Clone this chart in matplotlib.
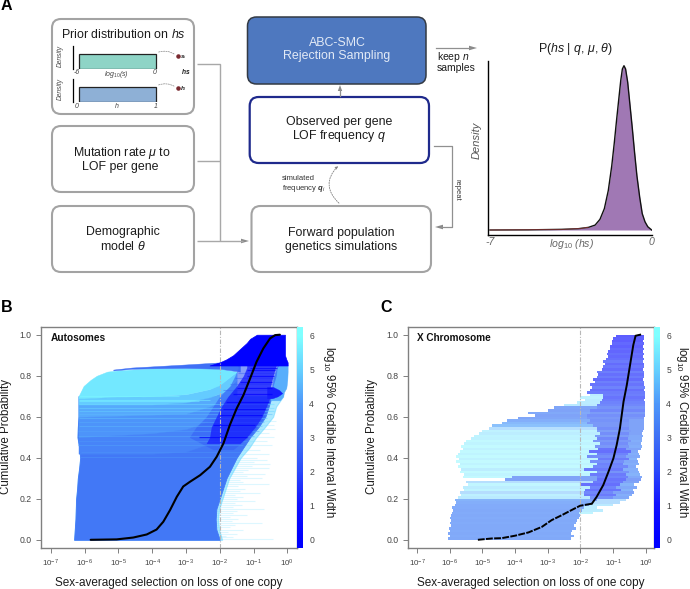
import matplotlib
matplotlib.use('Agg')
import numpy as np
import matplotlib.pyplot as plt
from matplotlib.colors import LinearSegmentedColormap, Normalize
from matplotlib.patches import FancyBboxPatch, FancyArrowPatch

plt.rcParams['font.family'] = ['Liberation Sans', 'DejaVu Sans']
plt.rcParams['mathtext.fontset'] = 'custom'
plt.rcParams['mathtext.rm'] = 'Liberation Sans'
plt.rcParams['mathtext.it'] = 'Liberation Sans:italic'
plt.rcParams['mathtext.bf'] = 'Liberation Sans:bold'
plt.rcParams['mathtext.bfit'] = 'Liberation Sans:italic:bold'

W, H = 690, 589

# ---------- panel A density ----------
post_log_hs = [-7, -5.34, -3.9, -3.18, -2.74, -2.45, -2.24, -2.05, -1.88, -1.73, -1.62, -1.52, -1.43, -1.34,
               -1.27, -1.2, -1.13, -1.04, -.94, -.84, -.74, -.64, -.52, -.41, -.29, -.17, 0]
post_density = [0, .001, .004, .008, .016, .03, .065, .13, .24, .39, .53, .67, .79, .91,
                .98, 1.0, .98, .9, .76, .62, .47, .33, .2, .1, .05, .02, 0]

# ---------- panel B (autosomes): medians ----------
b_med_x = [-5.82, -5.05, -4.56, -4.16, -3.87, -3.67, -3.47, -3.27, -3.08, -2.88, -2.58, -2.29, -2.09, -1.89,
           -1.70, -1.5, -1.3, -1.1, -.91, -.71, -.51, -.36, -.22]
b_med_p = [0, .002, .011, .026, .05, .088, .145, .21, .26, .283, .315, .356, .405, .47,
           .56, .64, .705, .787, .868, .933, .982, .998, 1]

# panel B: outer reach of the credible intervals
b_main_p = [0, .05, .1, .15, .2, .25, .3, .35, .4, .45, .5, .55, .6, .65, .7]
b_main_lo = [-6.31, -6.29, -6.27, -6.26, -6.25, -6.22, -6.2, -6.16, -6.13, -6.16, -6.21, -6.2, -6.18, -6.18, -6.18]
b_main_hi = [-2.0, -2.1, -2.12, -2.1, -2.0, -1.9, -1.8, -1.65, -1.5, -1.3, -1.1, -.85, -.65, -.55, -.46]
b_soft_hi = [-1.93, -2.02, -2.05, -2.02, -1.92, -1.82, -1.72, -1.55, -1.38, -1.12, -.92, -.66, -.42, -.33, -.12]

# panel B: bands of the same interval width, lower and upper bound across x
b_band_x = [-6.18, -4.0, -3.0, -2.3, -1.9, -1.5]
b_band_p = [[.42, .42, .43, .47, .52, .56], [.50, .52, .54, .58, .62, .66], [.60, .61, .615, .65, .68, .74],
            [.66, .66, .67, .695, .72, .78], [.69, .70, .71, .735, .77, .82]]
b_band_w = [3.5, 3.9, 4.3, 4.9]
b_cyan_x = [-6.18, -6.12, -6.03, -5.82, -5.64, -5.33, -5.0, -4.0, -3.0, -2.3, -2.0, -1.5]
b_cyan_top = [.70, .72, .75, .78, .80, .82, .826, .836, .838, .836, .834, .82]
b_cyan_low = [.69, .69, .69, .692, .693, .695, .697, .70, .71, .735, .755, .82]
b_cyan_w = 5.5
b_rim_x = [-5.15, -4.6, -4.06, -3.0, -2.0, -1.4]
b_rim_lo = [.826, .834, .836, .838, .834, .82]
b_rim_hi = [.83, .84, .845, .855, .865, .88]
b_rim_w = 3.0

# panel B: dark core of narrow intervals
b_core_p = [.44, .5, .55, .6, .65, .7, .75, .8, .84, .86]
b_core_lo = [-2.2, -2.9, -2.7, -2.4, -2.2, -2.0, -1.7, -1.55, -1.45, -1.5]
b_core_hi = [-1.6, -1.15, -.9, -.68, -.58, -.46, -.42, -.33, -.3, -.2]
b_core_w = 2.6
b_inner_p = [.47, .5, .55, .6, .65, .7, .75, .8, .84, .86]
b_inner_lo = [-2.4, -2.3, -2.25, -2.1, -1.95, -1.75, -1.5, -1.3, -1.2, -1.2]
b_inner_hi = [-1.4, -1.2, -.95, -.75, -.62, -.5, -.5, -.42, -.35, -.3]
b_inner_w = 1.2
b_lobe_p = [.69, .70, .715, .73, .745]
b_lobe_hi = [-.45, -.28, -.15, -.24, -.42]
b_lobe_w = 1.2
b_right_p = [.68, .70, .72, .74, .78, .82, .85, .87]
b_right_lo = [-.5, -.5, -.5, -.45, -.42, -.35, -.3, -.2]
b_right_hi = [-.22, -.12, -.1, -.03, 0, .01, .01, -.03]
b_right_w = 4.4
b_top_p = [.85, .855, .865, .88, .9, .93, .96, .98, 1]
b_top_lo = [-2.3, -2.2, -2.0, -1.8, -1.6, -1.4, -1.2, -1.1, -.9]
b_top_hi = [.01, .01, .01, -.03, -.07, -.07, -.07, -.07, -.07]
b_top_w = 0.05

# panel B: single genes that stand out
b_streak_p = [.405, .43, .46, .48, .505, .53, .555, .575, .595, .615, .63, .645, .66, .675, .682, .70, .73, .76,
              .79, .815, .50, .56, .61, .64, .67, .71, .74, .77, .80, .83, .84]
b_streak_lo = [-6.13, -6.1, -6.2, -6.2, -6.2, -6.2, -6.18, -6.18, -6.18, -6.18, -6.18, -6.18, -6.18, -6.18, -6.18,
               -6.18, -1.9, -1.7, -1.55, -1.45, -2.6, -2.2, -2.0, -1.9, -1.8, -1.6, -1.5, -1.4, -1.2, -1.2, -1.1]
b_streak_hi = [-1.5, -1.4, -1.3, -1.2, -1.0, -.85, -.75, -.7, -.6, -.45, -.4, -.4, -.4, -2.6, -2.3, -3.2, -.5,
               -.45, -.4, -.35, -1.2, -.95, -.75, -.65, -.55, -.45, -.45, -.45, -.4, -.35, -.3]
b_streak_w = [4, 3.9, 4.2, 4, 4.4, 4.2, 4.6, 4.4, 4.8, 4.6, 5, 5.2, 5.3, 5.9, 6, 5.9, 2.6, 2.8, 2.4, 2.6,
              0, 0, 0, 0, 0, 0, 0, 0, 0, 0, 0]

b_fringe_p = [.005, .012, .02, .03, .04, .05, .06, .07, .08, .09, .10, .11, .12, .13, .14, .15, .16, .17, .18,
              .19, .20, .21, .22, .23, .24, .25, .26, .27, .28, .29, .30, .31, .32, .33, .34, .35, .36, .37,
              .38, .39, .40, .42, .44, .46, .48, .50, .52, .54, .56, .58]
b_fringe_hi = [-.42, -1.6, -1.8, -1.5, -1.75, -1.3, -1.7, -1.55, -.75, -1.65, -1.45, -1.7, -1.2, -1.6, -1.5,
               -.7, -1.6, -1.35, -1.55, -.95, -1.5, -1.3, -1.55, -.8, -1.4, -1.25, -1.45, -.55, -1.3, -1.4,
               -.75, -1.2, -.65, -1.3, -1.15, -.55, -1.05, -.5, -1.0, -.6, -.9, -.55, -.8, -.45, -.6, -.4,
               -.55, -.35, -.4, -.32]

# ---------- panel C (X chromosome) ----------
c_med_x_low = [-5.14, -4.71, -4.41, -4.0, -3.59, -3.18, -2.88, -2.57, -2.27, -2.01, -1.65]
c_med_p_low = [0, .0065, .008, .02, .036, .063, .096, .12, .145, .166, .176]
c_med_x_high = [-1.65, -1.5, -1.3, -1.14, -.99, -.89, -.79, -.68, -.58, -.48, -.38, -.31, -.17]
c_med_p_high = [.176, .21, .267, .332, .397, .462, .543, .673, .754, .852, .95, .995, 1]

c_p = [.0000, .0125, .025, .0375, .05, .0625, .075, .0875, .1, .1125, .125, .1375, .15, .1625, .175, .1875,
       .2, .2125, .225, .2375, .25, .2625, .275, .2875, .3, .3125, .325, .3375, .35, .3625, .375, .3875,
       .4, .4125, .425, .4375, .45, .4625, .475, .4875, .5, .5125, .525, .5375, .55, .5625, .575, .5875,
       .6, .6125, .625, .6375, .65, .6625, .675, .6875, .7, .7125, .725, .7375, .75, .7625, .775, .7875,
       .8, .8125, .825, .8375, .85, .8625, .875, .8875, .9, .9125, .925, .9375, .95, .9625, .975, .9875]
c_edges = [[-6.05, -2.28], [-6.0, -2.2], [-6.05, -2.3], [-5.98, -2.25], [-6.02, -2.15], [-5.97, -2.2],
           [-6.0, -2.12], [-5.95, -2.1], [-6.0, -2.05], [-5.96, -2.0], [-5.93, -2.05, -1.6], [-5.9, -1.95, -1.3],
           [-5.92, -1.9, -1.5], [-5.85, -1.75, -1.0], [-5.8, -1.6, -.8], [-5.83, -1.7, -1.5, -.6],
           [-5.75, -1.7, -1.0, -.5], [-5.65, -1.9, -.9, -.42], [-5.7, -1.9, -1.0, -.35],
           [-5.55, -1.85, -.75, -.4], [-5.6, -1.7, -.9, -.28], [-5.45, -2.0, -.8, -.35], [-5.5, -1.6, -.7, -.2],
           [-4.3, -1.5, -.6, -.15], [-5.6, -4.1, -1.5, -.55, -.12], [-5.55, -1.7, -.6, -.17], [-5.7, -1.5, -.5, -.2],
           [-5.65, -1.9, -.7, -.25], [-5.75, -1.6, -.55, -.3], [-5.7, -1.5, -.7, -.22], [-5.8, -1.7, -.65, -.25],
           [-5.72, -1.45, -.5, -.28], [-5.8, -1.8, -.6, -.18], [-5.75, -1.5, -.55, -.2], [-5.7, -1.75, -.45, -.25],
           [-5.6, -1.45, -.6, -.15], [-5.65, -1.55, -.5, -.12], [-5.55, -1.4, -.55, -.13], [-5.5, -1.6, -.45, -.1],
           [-5.35, -1.5, -.55, -.12], [-5.25, -1.55, -.5, -.08], [-5.1, -1.4, -.5, -.1], [-5.0, -1.5, -.45, -.08],
           [-4.8, -1.5, -.5, -.06], [-4.7, -1.6, -.5, -.06], [-4.4, -1.8, -.5, -.04], [-4.25, -1.7, -.5, -.04],
           [-3.9, -1.8, -.05], [-3.4, -1.8, -.03], [-3.6, -1.7, -.03], [-3.0, -1.7, -.02], [-2.8, -1.5, -.03],
           [-2.5, -1.5, -.02], [-2.1, -1.4, -.03], [-1.85, -1.35, -.05], [-2.0, -1.3, -.02], [-1.7, -1.3, -.03],
           [-1.8, -.02], [-1.72, -.05], [-1.65, -.03], [-1.7, -.04], [-1.55, -.05], [-1.6, -.07], [-1.5, -.05],
           [-1.45, -.06], [-1.5, -.05], [-1.35, -.07], [-1.3, -.06], [-1.25, -.06], [-1.3, -.08], [-1.22, -.06],
           [-1.15, -.07], [-1.18, -.06], [-1.14, -.07], [-1.1, -.06], [-1.08, -.07], [-1.04, -.06], [-1.02, -.07],
           [-1.0, -.05], [-.9, -.04]]
c_width = [[3.4], [3.5], [3.4], [3.5], [3.4], [3.4], [3.5], [3.4], [3.5], [3.4], [3.5, 5.5], [3.4, 5.2],
           [3.5, 5.2], [3.5, 5], [3.6, 4.5], [3.8, 3, 4.5],
           [5, 2.5, 3.4], [5.3, 1.8, 3.6], [4.5, 2.2, 3.2], [5.5, 1.6, 3.8], [5.2, 2, 3.4], [5.6, 1.5, 3.8], [4.6, 1.8, 3.2],
           [3.2, 1.6, 3.0], [5.7, 3.2, 2, 3.4], [5.5, 1.8, 3.8], [5.8, 2.6, 3.6], [5.2, 1.8, 3.6], [5.8, 2.2, 3.4],
           [5.5, 2, 3.6], [5.8, 2.5, 3.4], [5.4, 1.8, 3.8], [5.8, 2.4, 3.4], [5.5, 2, 3.6], [5.7, 1.5, 3.4], [5.4, 1.6, 3.2],
           [5.8, 2.8, 3.6], [5.5, 2.4, 3.4], [5.7, 2.8, 3.6], [5.4, 2.2, 3.4], [5.5, 3, 3.4], [5.2, 2.4, 3.2], [5.4, 3, 3.2],
           [4.6, 2.4, 3.2], [4.2, 2.8, 3.2], [4, 2.8, 3.2], [3.6, 2.6, 3.2],
           [3.3, 2.8], [3.2, 2.5], [3.4, 2.9], [3.2, 2.2], [3.3, 2.6], [5, 2.2], [5.2, 2], [5.2, 1.8], [5.4, 1.6],
           [5.2, 1.9], [1.8], [1.5], [2], [1.6], [1.9], [1.4], [1.8], [1.5], [1.9], [1.4], [1.7], [1.4], [1.8], [1.5],
           [1.3], [1.5], [1.2], [1.4], [1.1], [1.3], [1.0], [1.1], [.9]]
c_row_height = .0125

# ---------- shared labels ----------
x_exponents = [-7, -6, -5, -4, -3, -2, -1, 0]
y_ticks = [0, .2, .4, .6, .8, 1.0]
cbar_ticks = [0, 1, 2, 3, 4, 5, 6]
x_label = 'Sex-averaged selection on loss of one copy'
y_label = 'Cumulative Probability'
cbar_label = 'log$_{10}$ 95% Credible Interval Width'

cmap = LinearSegmentedColormap.from_list('ci', [(0, '#0000ff'), (1 / 6, '#1212ff'), (2 / 6, '#2a48fb'),
                                                (3 / 6, '#3f70f5'), (4 / 6, '#4f98fa'), (5 / 6, '#66d0ff'),
                                                (1, '#80ffff')])
norm = Normalize(0, 6)


def tenx(values):
    return [10.0 ** v for v in values]


def px_axes(fig, l, t, r, b):
    return fig.add_axes([l / W, 1 - b / H, (r - l) / W, (b - t) / H])


fig = plt.figure(figsize=(W / 100, H / 100), dpi=100)

bg = fig.add_axes([0, 0, 1, 1], zorder=-5)
bg.set_xlim(0, W)
bg.set_ylim(H, 0)
bg.axis('off')


def draw_panel(box_px, cbox, xlim, draw_rows, med):
    ax = px_axes(fig, *box_px)
    ax.set_xscale('log')
    ax.set_xlim(10 ** xlim[0], 10 ** xlim[1])
    ax.set_ylim(-.04, 1.0376)
    draw_rows(ax)
    ax.axvline(1e-2, color='#b8b8b8', lw=.8, ls=(0, (4, 1.5, 1, 1.5)), zorder=9)
    med(ax)
    ax.set_xticks(tenx(x_exponents))
    ax.set_xticklabels(['$10^{%d}$' % e for e in x_exponents], fontsize=5.8, color='#444444')
    ax.xaxis.set_minor_locator(plt.NullLocator())
    ax.set_yticks(y_ticks)
    ax.set_yticklabels(['%.1f' % v for v in y_ticks], fontsize=6.2, color='#444444')
    ax.tick_params(length=3.5, width=.7, color='#808080', pad=3.5)
    for s in ax.spines.values():
        s.set_color('#808080')
        s.set_linewidth(1.0)
    cax = px_axes(fig, *cbox)
    cax.imshow(np.linspace(6.25, -.25, 256)[:, None], aspect='auto', cmap=cmap, norm=norm,
               extent=[0, 1, -.25, 6.25])
    cax.set_xticks([])
    cax.yaxis.tick_right()
    cax.set_yticks(cbar_ticks)
    cax.tick_params(axis='y', length=0, labelsize=6.2, labelcolor='#444444', pad=4.5)
    for s in cax.spines.values():
        s.set_visible(False)
    return ax


def rows_b(ax):
    ax.hlines(b_fringe_p, 10.0 ** -3, tenx(b_fringe_hi), color='#9fe9ff', lw=.8, alpha=.35, zorder=1)
    ax.fill_betweenx(b_main_p, tenx(b_main_lo), tenx(b_soft_hi), color=cmap(norm(5.2)), alpha=.55, lw=.8, zorder=2)
    ax.fill_betweenx(b_main_p, tenx(b_main_lo), tenx(b_main_hi), color=cmap(norm(3.2)), lw=.6, zorder=3)
    for k, w in enumerate(b_band_w):
        ax.fill_between(tenx(b_band_x), b_band_p[k], b_band_p[k + 1], color=cmap(norm(w)), lw=.3, zorder=4)
    ax.fill_between(tenx(b_cyan_x), b_cyan_low, b_cyan_top, color=cmap(norm(b_cyan_w)), lw=.3, zorder=4)
    ax.fill_between(tenx(b_rim_x), b_rim_lo, b_rim_hi, color=cmap(norm(b_rim_w)), lw=.3, zorder=4)
    ax.fill_betweenx(b_right_p, tenx(b_right_lo), tenx(b_right_hi), color=cmap(norm(b_right_w)), lw=.3, zorder=4)
    ax.fill_betweenx(b_core_p, tenx(b_core_lo), tenx(b_core_hi), color=cmap(norm(b_core_w)), alpha=.6, lw=0, zorder=5)
    ax.hlines(b_streak_p[:20], tenx(b_streak_lo[:20]), tenx(b_streak_hi[:20]),
              colors=[cmap(norm(w)) for w in b_streak_w[:20]], lw=.8, alpha=.45, zorder=5.5)
    ax.fill_betweenx(b_inner_p, tenx(b_inner_lo), tenx(b_inner_hi), color=cmap(norm(b_inner_w)), alpha=.75, lw=0, zorder=6)
    ax.fill_betweenx(b_lobe_p, 10.0 ** -.6, tenx(b_lobe_hi), color=cmap(norm(b_lobe_w)), lw=.3, zorder=6)
    ax.hlines(b_streak_p[20:], tenx(b_streak_lo[20:]), tenx(b_streak_hi[20:]),
              colors=[cmap(norm(w)) for w in b_streak_w[20:]], lw=.9, alpha=.7, zorder=6)
    ax.fill_betweenx(b_top_p, tenx(b_top_lo), tenx(b_top_hi), color=cmap(norm(b_top_w)), lw=.5, zorder=7)


def rows_c(ax):
    for p, edges, widths in zip(c_p, c_edges, c_width):
        for k, w in enumerate(widths):
            ax.barh(p, 10.0 ** edges[k + 1] - 10.0 ** edges[k], left=10.0 ** edges[k],
                    height=c_row_height, align='edge', color=cmap(norm(w)), alpha=.68 if w < 4.5 else .45,
                    lw=0, zorder=2)


def med_b(ax):
    ax.plot(tenx(b_med_x), b_med_p, color='black', lw=1.5, zorder=10, solid_capstyle='round')


def med_c(ax):
    ax.plot(tenx(c_med_x_low), c_med_p_low, color='black', lw=1.4, ls=(0, (3.5, .7)), zorder=10)
    ax.plot(tenx(c_med_x_high), c_med_p_high, color='black', lw=1.4, zorder=10)


draw_panel((41, 327, 297, 548), (297, 327, 303, 548), (-7.29, .287), rows_b, med_b)
draw_panel((408, 327, 654.3, 548), (654.3, 327, 660, 548), (-7.28, .263), rows_c, med_c)

# ---------- density axes ----------
dax = px_axes(fig, 487.7, 61, 651.7, 234.7)
dax.fill_between(post_log_hs, post_density, 0, color='#a078b4', lw=0)
dax.plot(post_log_hs, post_density, color='#111111', lw=1.0)
dax.plot(post_log_hs[:5], post_density[:5], color='#b04040', lw=.4)
dax.set_xlim(-7.1, 0)
dax.set_ylim(-.0286, 1.0286)
dax.set_xticks([])
dax.set_yticks([])
dax.spines['top'].set_visible(False)
dax.spines['right'].set_visible(False)
dax.spines['left'].set_linewidth(1.0)
dax.spines['bottom'].set_linewidth(1.0)
dax.patch.set_alpha(0)

# ---------- prior bars ----------
for (t, b, col) in [(53, 68, '#8ed4c6'), (86, 101, '#8eb0d6')]:
    pax = px_axes(fig, 72.5, t - 7, 160, b + .5)
    pax.bar([0.5], [1], width=1, color=col, edgecolor='#222222', lw=.9, align='center')
    pax.set_xlim(-(79 - 72.5) / 77, 1 + 4 / 77)
    pax.set_ylim(0, 22.5 / 15)
    pax.set_xticks([])
    pax.set_yticks([])
    pax.spines['top'].set_visible(False)
    pax.spines['right'].set_visible(False)
    pax.spines['bottom'].set_visible(False)
    pax.spines['left'].set_linewidth(.9)
    pax.patch.set_alpha(0)

# ---------- overlay in pixel space ----------
ov = fig.add_axes([0, 0, 1, 1], zorder=20)
ov.set_xlim(0, W)
ov.set_ylim(H, 0)
ov.axis('off')


def box(l, t, r, b, ec='#a3a3a3', fc='white', lw=1.5, rad=9):
    bg.add_patch(FancyBboxPatch((l + rad, t + rad), r - l - 2 * rad, b - t - 2 * rad,
                                boxstyle='round,pad=%g,rounding_size=%g' % (rad, rad),
                                ec=ec, fc=fc, lw=lw))


def txt(x, y, s, size=8.9, color='#1c1c1c', ha='center', **kw):
    ov.text(x, y, s, fontsize=size, color=color, ha=ha, va='center', **kw)


box(52, 19, 194, 114)
box(52, 126, 194, 192)
box(52, 206, 194, 272)
box(247.5, 17, 426, 84, ec='#333a44', fc='#4e78bf', lw=1.1)
box(249.7, 97, 429, 163, ec='#1f2a8c', lw=1.6)
box(251.5, 206, 431, 272)

txt(123, 35, 'Prior distribution on $\\mathit{hs}$')
txt(122, 153, 'Mutation rate $\\mu$ to')
txt(120, 167, 'LOF per gene')
txt(123, 232, 'Demographic')
txt(123, 246, 'model $\\theta$')
txt(337, 42.5, 'ABC-SMC', color='#e2eaf6')
txt(337, 56.5, 'Rejection Sampling', color='#e2eaf6')
txt(339, 122, 'Observed per gene')
txt(339, 136, 'LOF frequency $\\mathit{q}$')
txt(341, 233, 'Forward population')
txt(341, 247, 'genetics simulations')

txt(60, 56, 'Density', size=4.8, rotation=90, style='italic', color='#444444')
txt(60, 89, 'Density', size=4.8, rotation=90, style='italic', color='#444444')
txt(76.6, 73, '-6', size=5, style='italic', color='#444444')
txt(116, 75, 'log$_{10}$(s)', size=5, style='italic', color='#444444')
txt(155, 73, '0', size=5, style='italic', color='#444444')
txt(77, 106, '0', size=5, style='italic', color='#444444')
txt(117, 107, 'h', size=5, style='italic', color='#444444')
txt(156, 106, '1', size=5, style='italic', color='#444444')
txt(186, 71, '$\\mathbfit{hs}$', size=4.8)
txt(183.5, 57, '$\\mathbfit{s}_{i}$', size=4.6)
txt(183.5, 89, '$\\mathbfit{h}_{i}$', size=4.6)
for (x0, y0, y1) in [(156, 53, 56), (156, 86, 88)]:
    ov.add_patch(FancyArrowPatch((x0, y0), (177, y1), connectionstyle='arc3,rad=-0.3', arrowstyle='-',
                                 ls=(0, (2, 1.5)), lw=.5, color='#888888'))
ov.scatter([178, 178], [56, 88], s=5, color='#7a2a30', zorder=3)

line = dict(color='#a8a8a8', lw=1.0, solid_capstyle='butt', solid_joinstyle='miter')
ov.plot([197, 220, 220], [64, 64, 241], **line)
ov.plot([197, 220], [161, 161], **line)
ov.plot([197, 243], [241, 241], **line)
ov.plot([434, 452, 452, 441], [146, 146, 227, 227], color='#909090', lw=.9)
ov.plot([436, 470], [48, 48], color='#909090', lw=.9)
ov.plot([340, 340], [96, 90], color='#909090', lw=.9)
ov.fill([249, 241, 241], [241, 238.7, 243.3], color='#8a8a8a', lw=0)
ov.fill([435, 443, 443], [227, 224.7, 229.3], color='#8a8a8a', lw=0)
ov.fill([477, 469, 469], [48, 45.7, 50.3], color='#8a8a8a', lw=0)
ov.fill([340, 337.8, 342.2], [85, 91, 91], color='#8a8a8a', lw=0)
ov.add_patch(FancyArrowPatch((341, 205), (340, 164), connectionstyle='arc3,rad=-0.55', arrowstyle='-|>',
                             mutation_scale=4, ls=(0, (1.5, 1.5)), lw=.6, color='#808080'))
txt(281.5, 178, 'simulated', size=5.5, ha='left', color='#333333')
txt(281.5, 188, 'frequency $\\mathbfit{q}_{i}$', size=5.5, ha='left', color='#333333')
txt(457, 190, 'repeat', size=5.4, rotation=270, color='#333333')
txt(437, 56.5, 'keep $\\mathit{n}$', size=7.5, ha='left')
txt(437, 68, 'samples', size=7.5, ha='left')
txt(576, 49, 'P($\\mathit{hs}$ | $\\mathit{q}$, $\\mu$, $\\theta$)', size=8.9)
txt(490, 242, '-7', size=7.6, style='italic', color='#666666')
txt(571, 244, 'log$_{10}$ (hs)', size=7.6, style='italic', color='#666666')
txt(651, 242, '0', size=7.6, style='italic', color='#666666')
txt(477, 140, 'Density', size=8, rotation=90, style='italic', color='#555555')

ov.text(1, 6, 'A', fontsize=11.5, fontweight='bold', color='black', va='center')
ov.text(1, 308, 'B', fontsize=11.5, fontweight='bold', color='black', va='center')
ov.text(380, 308, 'C', fontsize=11.5, fontweight='bold', color='black', va='center')
txt(51, 338, 'Autosomes', size=7.3, ha='left', fontweight='bold', color='#111111')
txt(417, 338, 'X Chromosome', size=7.2, ha='left', fontweight='bold', color='#111111')
txt(169, 583, x_label, size=8.45)
txt(531, 583, x_label, size=8.45)
txt(6.5, 437, y_label, size=8.3, rotation=90)
txt(372, 437, y_label, size=8.3, rotation=90)
txt(329, 432, cbar_label, size=8.3, rotation=270)
txt(682.5, 432, cbar_label, size=8.3, rotation=270)

fig.savefig('out.png', dpi=100)
